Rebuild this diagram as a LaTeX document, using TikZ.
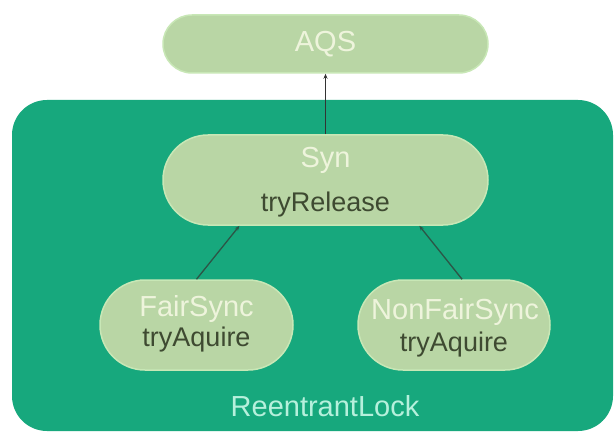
\documentclass[tikz,border=0pt]{standalone}
\usepackage{fontspec}
\setmainfont{Liberation Sans}
\usetikzlibrary{arrows.meta}
\definecolor{lockgreen}{HTML}{17A87D}
\definecolor{boxfill}{HTML}{B9D6A5}
\definecolor{boxedge}{HTML}{C8E7B6}
\definecolor{titletext}{HTML}{EEF4DC}
\definecolor{methodtext}{HTML}{3E4A31}
\definecolor{locktext}{HTML}{B6F0DC}
\definecolor{connline}{HTML}{2C5546}
\tikzset{
  pill/.style={draw=boxedge, line width=1.5pt, fill=boxfill, inner sep=0pt},
  titlelbl/.style={text=titletext, font=\fontsize{29}{32}\selectfont, inner sep=0pt},
  methodlbl/.style={text=methodtext, font=\fontsize{27}{30}\selectfont, inner sep=0pt},
  conn/.style={draw=connline, line width=1.3pt, -{Stealth[length=5pt,width=4pt]}}
}
\begin{document}
\begin{tikzpicture}[x=1pt,y=-1pt]
\useasboundingbox (0,0) rectangle (616,433);
\fill[white] (0,0) rectangle (616,433);
% ReentrantLock container
\node[fill=lockgreen, rounded corners=35pt, minimum width=601pt, minimum height=331pt, inner sep=0pt] (lock) at (312.5,265.5) {};
\node[text=locktext, font=\fontsize{29}{32}\selectfont, inner sep=0pt] (lockT) at (325,406) {ReentrantLock};
% boxes
\node[pill, rounded corners=29pt, minimum width=325pt, minimum height=58pt] (aqs) at (325.5,44) {};
\node[titlelbl] (aqsT) at (325.5,44) {AQS};
\node[pill, rounded corners=45pt, minimum width=325pt, minimum height=90pt] (syn) at (325.5,180) {};
\node[titlelbl] (synT) at (325.5,160) {Syn};
\node[methodlbl] (synM) at (325.5,205) {tryRelease};
\node[pill, rounded corners=45pt, minimum width=193pt, minimum height=90pt] (fair) at (196.5,325) {};
\node[titlelbl] (fairT) at (196.5,309) {FairSync};
\node[methodlbl] (fairM) at (196.5,340) {tryAquire};
\node[pill, rounded corners=45pt, minimum width=192pt, minimum height=90pt] (nonfair) at (454,325) {};
\node[titlelbl] (nonfairT) at (455,312) {NonFairSync};
\node[methodlbl] (nonfairM) at (454,345) {tryAquire};
% connectors
\draw[conn, draw=black!80] (syn.north) -- (aqs.south);
\draw[conn] (fair.north) -- (syn.-152);
\draw[conn] (nonfair.80) -- (syn.-26);
\end{tikzpicture}
\end{document}
